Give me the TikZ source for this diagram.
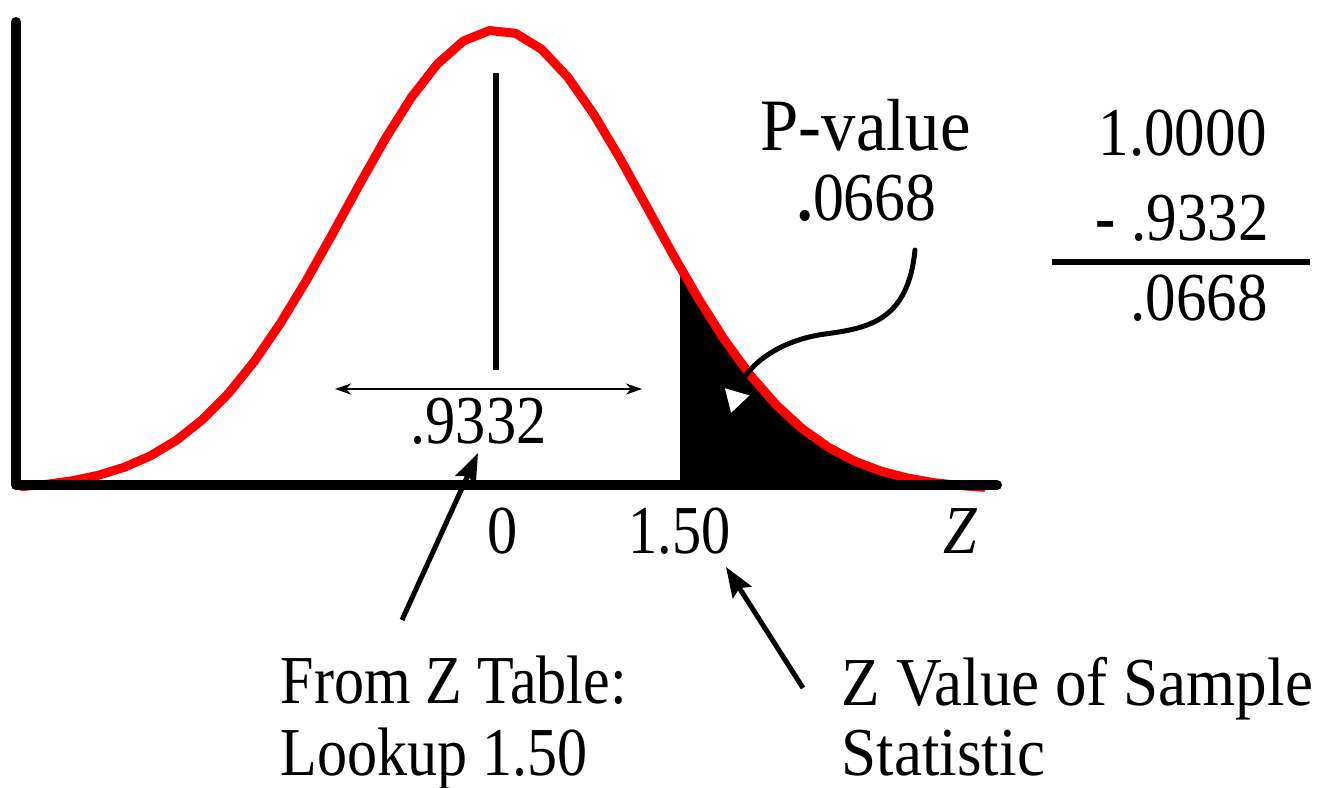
\documentclass[tikz,border=0pt]{standalone}
\usepackage{fontspec}
\usepackage{graphicx}
\setmainfont{Liberation Serif}
\usetikzlibrary{arrows.meta}
\newcommand{\hsq}[2][0.88]{\scalebox{#1}[1]{#2}}
\begin{document}
\begin{tikzpicture}[x=0.01cm,y=-0.01cm,
  lbl/.style={inner sep=0pt,anchor=base west,font=\fontsize{19.5}{23}\selectfont},
  bigl/.style={lbl,font=\fontsize{21}{25}\selectfont},
  axisline/.style={line width=0.1cm,line cap=round,line join=round},
  bell/.style={red,line width=0.09cm,line join=round},
  pointer/.style={line width=0.05cm,-{Stealth[length=0.3cm,width=0.22cm,inset=0.05cm]}},
  span/.style={line width=0.02cm,{Stealth[length=0.16cm,width=0.11cm,inset=0.05cm]}-{Stealth[length=0.16cm,width=0.11cm,inset=0.05cm]}},
  tailarrow/.style={line width=0.05cm,line cap=round,-{Triangle[length=0.22cm,width=0.24cm,white]}},
]
\useasboundingbox (0,0) rectangle (1329,787);
% shaded tail area
\fill[black] (680,487) -- plot[domain=680:990,samples=40] (\x,{490-460*exp(-0.5*((\x-497)/152)^2)}) -- (990,487) -- cycle;
% bell curve
\draw[bell] plot[domain=20:985,samples=38] (\x,{490-460*exp(-0.5*((\x-497)/152)^2)});
% axes
\draw[axisline] (16,22) -- (16,485) -- (997,485);
% mean line
\coordinate (mtop) at (496,73);
\coordinate (mbot) at (496,370);
\draw[line width=0.05cm] (mtop) -- (mbot);
% span arrow
\coordinate (dl) at (335,389);
\coordinate (dr) at (642,389);
\draw[span] (dl) -- (dr);
% labels
\node[lbl] (area) at (410,443) {\hsq{.9332}};
\node[lbl] (zero) at (487,553) {\hsq{0}};
\node[lbl] (zval) at (628,553) {\hsq[0.85]{1.50}};
\node[lbl] (zax) at (943,553) {\hsq{\textit{Z}}};
\node[bigl] (pv) at (760,150) {\hsq[0.93]{P-value}};
\node[lbl] (pvn) at (797,220) {\hsq[0.9]{\textbf{.}0668}};
\node[lbl] (one) at (1098,155) {\hsq[0.89]{1.0000}};
\node[lbl] (minus) at (1095,240) {\hsq[0.89]{\textbf{-} .9332}};
\node[lbl] (res) at (1130,320) {\hsq[0.89]{.0668}};
\node[lbl] (from1) at (280,703) {\hsq[0.876]{From Z Table:}};
\node[lbl] (from2) at (280,775) {\hsq[0.876]{Lookup 1.50}};
\node[lbl] (samp1) at (841,705) {\hsq[0.92]{Z Value of Sample}};
\node[lbl] (samp2) at (841,775) {\hsq[0.92]{Statistic}};
% subtraction rule
\coordinate (rl) at (1052,262);
\coordinate (rr) at (1310,262);
\draw[line width=0.06cm] (rl) -- (rr);
% pointers
\coordinate (a1s) at (402,620);
\coordinate (a1e) at (478,453);
\draw[pointer] (a1s) -- (a1e);
\coordinate (a2s) at (803,688);
\coordinate (a2e) at (726,567);
\draw[pointer] (a2s) -- (a2e);
\coordinate (ps) at (915,250);
\coordinate (pt) at (731,413);
\draw[tailarrow] (ps) .. controls (908,320) and (870,328) .. (825,334) .. controls (780,340) and (745,365) .. (pt);
\end{tikzpicture}
\end{document}
